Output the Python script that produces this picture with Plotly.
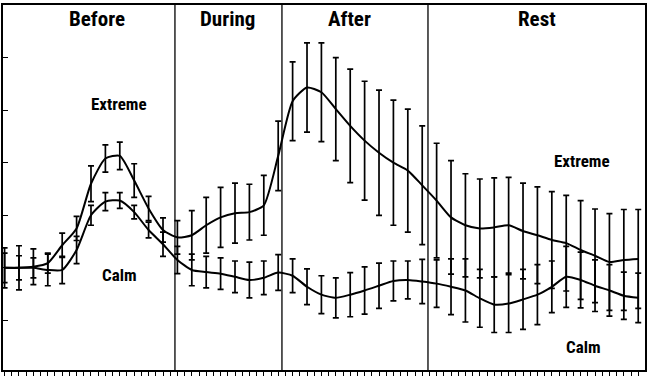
import plotly.graph_objects as go

# sample index (time points)
t = list(range(45))

extreme = [0.00, 0.00, 0.02, 0.09, 0.43, 0.75, 1.60, 2.08, 2.13, 1.66, 1.13, 0.72, 0.58,
           0.62, 0.81, 0.96, 1.04, 1.06, 1.19, 2.13, 3.17, 3.43, 3.34, 3.02, 2.70, 2.42,
           2.19, 2.00, 1.85, 1.57, 1.28, 0.96, 0.81, 0.75, 0.77, 0.81, 0.70, 0.62, 0.53,
           0.47, 0.34, 0.23, 0.11, 0.15, 0.17]
extreme_err = [0.38, 0.42, 0.34, 0.19, 0.23, 0.23, 0.34, 0.26, 0.26, 0.32, 0.23, 0.23, 0.32,
               0.47, 0.53, 0.57, 0.57, 0.53, 0.57, 0.66, 0.75, 0.85, 0.94, 0.98, 1.08, 1.13,
               1.19, 1.19, 1.17, 1.13, 1.09, 1.08, 0.98, 0.94, 0.94, 0.91, 0.91, 0.92, 0.92,
               0.91, 0.94, 0.89, 0.92, 0.96, 0.94]
calm = [0.00, 0.00, 0.00, -0.04, -0.04, 0.34, 1.00, 1.26, 1.28, 1.06, 0.72, 0.45, 0.15,
        -0.04, -0.08, -0.11, -0.17, -0.23, -0.19, -0.09, -0.15, -0.36, -0.51, -0.57, -0.51,
        -0.43, -0.34, -0.25, -0.23, -0.26, -0.30, -0.36, -0.43, -0.58, -0.70, -0.68, -0.60,
        -0.51, -0.36, -0.17, -0.23, -0.34, -0.43, -0.53, -0.57]
calm_err = [0.28, 0.23, 0.19, 0.30, 0.26, 0.26, 0.19, 0.17, 0.15, 0.13, 0.15, 0.23, 0.26,
            0.30, 0.30, 0.30, 0.30, 0.34, 0.32, 0.34, 0.32, 0.34, 0.36, 0.38, 0.42, 0.45,
            0.43, 0.38, 0.36, 0.42, 0.45, 0.53, 0.60, 0.55, 0.53, 0.55, 0.57, 0.57, 0.49,
            0.58, 0.53, 0.49, 0.49, 0.45, 0.47]

phases = ["Before", "During", "After", "Rest"]
phase_label_x = [6.42, 15.45, 23.98, 36.97]
phase_bounds = [-0.11, 11.83, 19.26, 29.40, 44.47]

font_fam = "Liberation Sans Narrow, Roboto Condensed, Roboto, Liberation Sans, Arial"

fig = go.Figure()
for y, e in [(extreme, extreme_err), (calm, calm_err)]:
    fig.add_trace(go.Scatter(
        x=t, y=y, mode="lines",
        line=dict(color="black", width=2, shape="spline", smoothing=0.6),
        error_y=dict(type="data", array=e, visible=True, color="black",
                     thickness=1.7, width=3),
        showlegend=False, hoverinfo="skip"))

for b in phase_bounds[1:-1]:
    fig.add_shape(type="line", xref="x", yref="paper", x0=b, x1=b, y0=0, y1=1,
                  line=dict(color="black", width=1.3))

for name, lx in zip(phases, phase_label_x):
    fig.add_annotation(x=lx, y=0.962, xref="x", yref="paper", yanchor="middle",
                       text="<b>" + name + "</b>", showarrow=False,
                       font=dict(family=font_fam, size=21, color="black"))

labels = [("Extreme", 7.95, 3.12), ("Calm", 8.0, -0.13),
          ("Extreme", 40.1, 2.03), ("Calm", 40.2, -1.50)]
for txt, x, y in labels:
    fig.add_annotation(x=x, y=y, text="<b>" + txt + "</b>", showarrow=False,
                       yanchor="middle",
                       font=dict(family=font_fam, size=17, color="black"))

fig.update_xaxes(range=[phase_bounds[0], phase_bounds[-1]], showline=True, mirror=True,
                 linecolor="black", linewidth=1.5, ticks="outside", ticklen=4,
                 tickcolor="black", tick0=0, dtick=0.5, showticklabels=False,
                 showgrid=False, zeroline=False)
fig.update_yaxes(range=[-1.943, 5.0], showline=True, mirror=True,
                 linecolor="black", linewidth=1.5, ticks="inside", ticklen=5,
                 tickcolor="black", tick0=0, dtick=1, showticklabels=False,
                 showgrid=False, zeroline=False)

fig.update_layout(width=650, height=377, margin=dict(l=3, r=5, t=3, b=6),
                  paper_bgcolor="white", plot_bgcolor="white")

fig.write_html("out.html", config={"displayModeBar": False},
               post_script="document.body.style.margin='0';document.body.style.overflow='hidden';")
